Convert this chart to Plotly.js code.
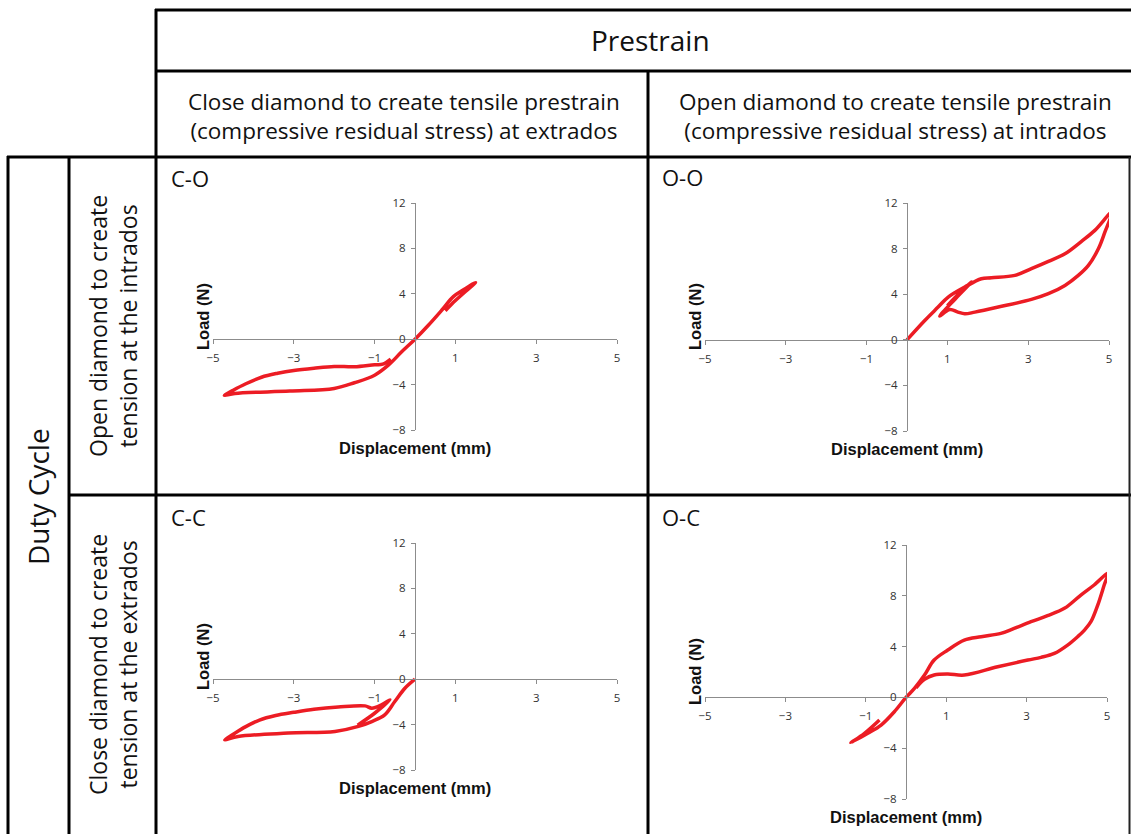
<!DOCTYPE html>
<html><head><meta charset="utf-8">
<script src="https://cdn.plot.ly/plotly-3.0.1.min.js"></script>
<style>html,body{margin:0;padding:0;background:#fff}#chart{width:1131px;height:834px}</style>
</head><body><div id="chart"></div>
<script>
// ---- data ----
const panelNames = ['C-O', 'O-O', 'C-C', 'O-C'];
const xTickVals = [-5, -3, -1, 1, 3, 5];
const yTickVals = [-8, -4, 0, 4, 8, 12];
const xTitle = 'Displacement (mm)';
const yTitle = 'Load (N)';
const headerTop = 'Prestrain';
const colHeaders = ['Close diamond to create tensile prestrain<br>(compressive residual stress) at extrados',
                    'Open diamond to create tensile prestrain<br>(compressive residual stress) at intrados'];
const sideTitle = 'Duty Cycle';
const rowHeaders = ['Open diamond to create<br>tension at the intrados',
                    'Close diamond to create<br>tension at the extrados'];

const coX = [0.75, 1.0, 1.25, 1.5, 1.2, 0.95, 0.66, 0.33, 0, -0.33, -0.66, -1.0, -1.5, -2.0, -3.1, -4.46, -4.72, -4.5, -4.2, -3.8, -3.4, -3.0, -2.5, -2.0, -1.5, -1.0, -0.8, -0.6];
const coY = [2.5, 3.4, 4.2, 5.0, 4.35, 3.75, 2.55, 1.23, 0, -1.11, -2.29, -3.17, -3.84, -4.34, -4.57, -4.78, -4.95, -4.5, -3.95, -3.35, -3.0, -2.75, -2.55, -2.4, -2.43, -2.25, -2.2, -1.75];

const ooX = [0, 0.44, 0.77, 1.02, 1.43, 1.84, 2.09, 2.67, 3.08, 3.5, 3.91, 4.32, 4.65, 5.07, 4.9, 4.74, 4.49, 4.24, 3.91, 3.5, 3.08, 2.26, 1.68, 1.43, 1.26, 1.06, 0.81, 1.2, 1.6, 1.3, 1.0];
const ooY = [0, 1.7, 2.87, 3.75, 4.63, 5.36, 5.45, 5.65, 6.24, 6.88, 7.55, 8.64, 9.6, 11.2, 9.46, 8.0, 6.53, 5.65, 4.77, 4.04, 3.54, 2.87, 2.43, 2.28, 2.43, 2.66, 2.08, 3.6, 5.07, 4.1, 3.0];

const ccX = [0, -0.25, -0.5, -0.75, -1.07, -1.4, -1.98, -3.14, -4.38, -4.71, -4.5, -4.2, -3.85, -3.45, -3.0, -2.5, -1.9, -1.24, -1.07, -0.83, -0.62, -1.0, -1.42];
const ccY = [0, -0.8, -1.97, -3.14, -3.73, -4.16, -4.6, -4.75, -5.04, -5.34, -4.85, -4.2, -3.6, -3.2, -2.92, -2.65, -2.45, -2.35, -2.55, -2.26, -1.82, -3.0, -4.05];

const ocX = [-0.66, -1.04, -1.37, -0.95, -0.62, -0.29, 0, 0.21, 0.46, 0.7, 1.04, 1.45, 1.87, 2.36, 2.69, 3.11, 3.52, 3.94, 4.35, 4.68, 5.02, 4.93, 4.77, 4.6, 4.44, 4.27, 4.02, 3.69, 3.36, 3.03, 2.28, 1.45, 1.04, 0.7, 0.46, 0.25];
const ocY = [-1.78, -2.85, -3.57, -2.83, -2.18, -1.13, 0, 0.71, 1.76, 2.94, 3.73, 4.51, 4.78, 5.04, 5.43, 5.96, 6.43, 7.01, 8.06, 8.85, 9.76, 8.85, 7.27, 5.96, 5.3, 4.78, 4.12, 3.46, 3.15, 2.94, 2.41, 1.76, 1.84, 1.76, 1.42, 0.75];

const seriesX = [coX, ooX, ccX, ocX];
const seriesY = [coY, ooY, ccY, ocY];

// ---- layout helpers (pixel -> paper) ----
const W = 1131, H = 834;
const PX = p => p / W;
const PY = p => 1 - p / H;

// plot areas in pixels: [left(x=-5), right(x=5), top(y=12), bottom(y=-8)]
const areas = [
  [213, 617, 203, 430],
  [705, 1109, 203, 431],
  [213, 617, 543, 770],
  [705, 1107, 545, 799]
];
const xRange = [-5, 5], yRange = [-8, 12];
const red = 'rgb(236,28,36)';
const axisGray = '#8c8c8c';
const tickFont = {family: 'Open Sans, sans-serif', size: 11.5, color: '#333'};

const data = [];
const layout = {
  width: W, height: H,
  margin: {l: 0, r: 0, t: 0, b: 0},
  paper_bgcolor: '#fff', plot_bgcolor: 'rgba(0,0,0,0)',
  showlegend: false,
  shapes: [], annotations: []
};

areas.forEach((a, i) => {
  const n = i === 0 ? '' : String(i + 1);
  const xd = [PX(a[0]), PX(a[1])];
  const yd = [PY(a[3]), PY(a[2])];
  const x0pos = xd[0] + (0 - xRange[0]) / (xRange[1] - xRange[0]) * (xd[1] - xd[0]);
  const y0pos = yd[0] + (0 - yRange[0]) / (yRange[1] - yRange[0]) * (yd[1] - yd[0]);
  data.push({
    type: 'scatter', mode: 'lines',
    x: seriesX[i], y: seriesY[i],
    xaxis: 'x' + n, yaxis: 'y' + n,
    line: {color: red, width: 3.5, shape: 'spline', smoothing: 1.0},
    hoverinfo: 'skip'
  });
  layout['xaxis' + n] = {
    domain: xd, range: xRange, anchor: 'free', position: y0pos,
    showgrid: false, zeroline: false, showline: true, linecolor: axisGray, linewidth: 1,
    tickmode: 'array', tickvals: xTickVals, ticks: 'outside', ticklen: 4, tickcolor: axisGray,
    tickfont: tickFont, ticklabelstandoff: 4, fixedrange: true
  };
  layout['yaxis' + n] = {
    domain: yd, range: yRange, anchor: 'free', position: x0pos,
    showgrid: false, zeroline: false, showline: true, linecolor: axisGray, linewidth: 1,
    tickmode: 'array', tickvals: yTickVals, ticks: 'outside', ticklen: 4, tickcolor: axisGray,
    tickfont: tickFont, ticklabelstandoff: 3, fixedrange: true
  };
});

// axis titles & panel labels (pixel positions)
const xTitleTop = [[415, 438], [907, 439], [415, 778], [906, 807]];
const yTitlePos = [[203, 317], [695, 317], [203, 657], [695, 672]];
const panelLabelPos = [[169, 178], [660, 177], [169, 517], [660, 517]];
const boldFont = {family: 'Liberation Sans, Arial, sans-serif', size: 16.5, color: '#111'};
for (let i = 0; i < 4; i++) {
  layout.annotations.push({xref: 'paper', yref: 'paper', x: PX(xTitleTop[i][0]), y: PY(xTitleTop[i][1]),
    text: '<b>' + xTitle + '</b>', showarrow: false, xanchor: 'center', yanchor: 'top', borderpad: 0, font: boldFont});
  layout.annotations.push({xref: 'paper', yref: 'paper', x: PX(yTitlePos[i][0]), y: PY(yTitlePos[i][1]),
    text: '<b>' + yTitle + '</b>', textangle: -90, showarrow: false, xanchor: 'center', yanchor: 'middle', font: boldFont});
  layout.annotations.push({xref: 'paper', yref: 'paper', x: PX(panelLabelPos[i][0]), y: PY(panelLabelPos[i][1]),
    text: panelNames[i], showarrow: false, xanchor: 'left', yanchor: 'middle',
    font: {family: 'Open Sans, sans-serif', size: 22, color: '#111'}});
}

// table headers
const hdrFont = {family: 'Open Sans, sans-serif', size: 22.5, color: '#111'};
layout.annotations.push({xref: 'paper', yref: 'paper', x: PX(650), y: PY(40), text: headerTop,
  showarrow: false, xanchor: 'center', yanchor: 'middle', font: {family: 'Open Sans, sans-serif', size: 28, color: '#111'}});
layout.annotations.push({xref: 'paper', yref: 'paper', x: PX(404), y: PY(116), text: colHeaders[0],
  showarrow: false, xanchor: 'center', yanchor: 'middle', align: 'center', font: hdrFont});
layout.annotations.push({xref: 'paper', yref: 'paper', x: PX(895), y: PY(116), text: colHeaders[1],
  showarrow: false, xanchor: 'center', yanchor: 'middle', align: 'center', font: hdrFont});
layout.annotations.push({xref: 'paper', yref: 'paper', x: PX(38), y: PY(497), text: sideTitle, textangle: -90,
  showarrow: false, xanchor: 'center', yanchor: 'middle', font: {family: 'Open Sans, sans-serif', size: 28, color: '#111'}});
layout.annotations.push({xref: 'paper', yref: 'paper', x: PX(113), y: PY(326), text: rowHeaders[0], textangle: -90,
  showarrow: false, xanchor: 'center', yanchor: 'middle', align: 'center', font: {family: 'Open Sans, sans-serif', size: 23, color: '#111'}});
layout.annotations.push({xref: 'paper', yref: 'paper', x: PX(113), y: PY(665), text: rowHeaders[1], textangle: -90,
  showarrow: false, xanchor: 'center', yanchor: 'middle', align: 'center', font: {family: 'Open Sans, sans-serif', size: 23, color: '#111'}});

// table lines
function hline(y, x0, x1, w, c) { layout.shapes.push({type: 'line', xref: 'paper', yref: 'paper', x0: PX(x0), x1: PX(x1), y0: PY(y), y1: PY(y), line: {color: c || '#000', width: w || 3}}); }
function vline(x, y0, y1, w, c) { layout.shapes.push({type: 'line', xref: 'paper', yref: 'paper', x0: PX(x), x1: PX(x), y0: PY(y0), y1: PY(y1), line: {color: c || '#000', width: w || 3}}); }
hline(10, 155, 1131);
hline(71, 155, 1131);
hline(157, 7, 1131);
hline(495, 68, 1131);
vline(156, 9, 834);
vline(648, 70, 834);
vline(8, 156, 834);
vline(69, 156, 834);
vline(1129.5, 157, 834, 2, '#222');

Plotly.newPlot('chart', data, layout, {staticPlot: true, displayModeBar: false});
</script>
</body></html>
